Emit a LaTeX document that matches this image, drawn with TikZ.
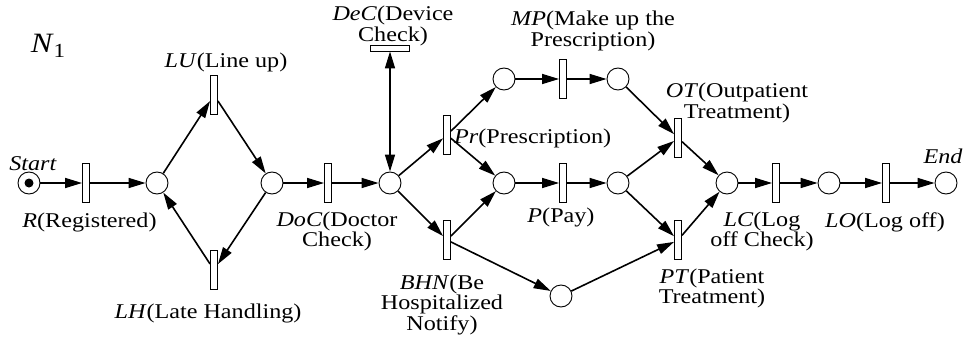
\documentclass[tikz,border=0pt]{standalone}
\usepackage{fontspec}
\setmainfont{Liberation Serif}
\usepackage{graphicx}
\usetikzlibrary{arrows.meta}
% stretched, centred label text (first baseline is the node's base)
\newcommand\lbl[1]{\scalebox{1.15}[1]{\begin{tabular}[t]{@{}c@{}}#1\end{tabular}}}

\begin{document}
\begin{tikzpicture}[x=1pt,y=-1pt,
  place/.style={circle,draw,line width=0.9pt,minimum size=22pt,inner sep=0pt},
  trans/.style={rectangle,draw,line width=0.9pt,minimum width=7pt,minimum height=39pt,inner sep=0pt,fill=white},
  htrans/.style={trans,minimum width=39pt,minimum height=6pt},
  arc/.style={line width=1.6pt,-{Triangle[length=17pt,width=10pt]}},
  biarc/.style={line width=1.6pt,{Triangle[length=17pt,width=10pt]}-{Triangle[length=17pt,width=10pt]}},
  txt/.style={inner sep=0pt,anchor=base,font=\fontsize{21}{20.5}\selectfont},
]
\fill[white] (0,0) rectangle (964,345);
\useasboundingbox (0,0) rectangle (964,345);

% places
\node[place] (start) at (29,183) {};
\fill (start.center) circle (4.5pt);
\node[place] (p1) at (157,183) {};
\node[place] (p2) at (272,183) {};
\node[place] (p3) at (390,183) {};
\node[place] (pa) at (504,79) {};
\node[place] (pb) at (504,183) {};
\node[place] (pe) at (561,296) {};
\node[place] (pc) at (618,79) {};
\node[place] (pd) at (618,183) {};
\node[place] (pf) at (727,183) {};
\node[place] (pg) at (829,183) {};
\node[place] (end) at (946,183) {};

% transitions
\node[trans] (R) at (86,183) {};
\node[trans] (LU) at (214,95) {};
\node[trans] (LH) at (214,270) {};
\node[trans] (DoC) at (328,183) {};
\node[htrans] (DeC) at (390,48) {};
\node[trans] (Pr) at (447,135) {};
\node[trans] (BHN) at (447,240) {};
\node[trans] (MP) at (563,79) {};
\node[trans] (P) at (563,183) {};
\node[trans] (OT) at (678,138) {};
\node[trans] (PT) at (678,240) {};
\node[trans] (LC) at (776,183) {};
\node[trans] (LO) at (886,183) {};

% arcs
\draw[arc] (start) -- (R);
\draw[arc] (R) -- (p1);
\draw[arc] (p1) -- (LU);
\draw[arc] (LU) -- (p2);
\draw[arc] (p2) -- (LH);
\draw[arc] (LH) -- (p1);
\draw[arc] (p2) -- (DoC);
\draw[arc] (DoC) -- (p3);
\draw[biarc] (p3) -- (DeC);
\draw[arc] (p3) -- (Pr);
\draw[arc] (p3) -- (BHN);
\draw[arc] (Pr) -- (pa);
\draw[arc] (Pr) -- (pb);
\draw[arc] (BHN) -- (pb);
\draw[arc] (BHN) -- (pe);
\draw[arc] (pa) -- (MP);
\draw[arc] (MP) -- (pc);
\draw[arc] (pb) -- (P);
\draw[arc] (P) -- (pd);
\draw[arc] (pc) -- (OT);
\draw[arc] (pd) -- (OT);
\draw[arc] (pd) -- (PT);
\draw[arc] (pe) -- (PT);
\draw[arc] (OT) -- (pf);
\draw[arc] (PT) -- (pf);
\draw[arc] (pf) -- (LC);
\draw[arc] (LC) -- (pg);
\draw[arc] (pg) -- (LO);
\draw[arc] (LO) -- (end);

% labels
\node[txt] (tN) at (48,53) {\scalebox{1.15}[1]{\fontsize{28}{28}\selectfont\textit{N}\raisebox{-5pt}{\fontsize{20}{20}\selectfont 1}}};
\node[txt] (tStart) at (33,170) {\lbl{\textit{Start}}};
\node[txt] (tR) at (89.5,227) {\lbl{\textit{R}(Registered)}};
\node[txt] (tLU) at (226,68) {\lbl{\textit{LU}(Line up)}};
\node[txt] (tLH) at (208,318) {\lbl{\textit{LH}(Late Handling)}};
\node[txt] (tDoC) at (337,226) {\lbl{\textit{DoC}(Doctor\\Check)}};
\node[txt] (tDeC) at (393,21) {\lbl{\textit{DeC}(Device\\Check)}};
\node[txt] (tMP) at (593,26) {\lbl{\textit{MP}(Make up the\\Prescription)}};
\node[txt,anchor=base west] (tPr) at (454,143) {\lbl{\textit{Pr}(Prescription)}};
\node[txt] (tP) at (561,222) {\lbl{\textit{P}(Pay)}};
\node[txt] (tBHN) at (442,289) {\lbl{\textit{BHN}(Be\\Hospitalized\\Notify)}};
\node[txt] (tOT) at (737,98) {\lbl{\textit{OT}(Outpatient\\Treatment)}};
\node[txt] (tPT) at (712,283) {\lbl{\textit{PT}(Patient\\Treatment)}};
\node[txt] (tLC) at (762,226) {\lbl{\textit{LC}(Log\\off Check)}};
\node[txt] (tLO) at (885,227) {\lbl{\textit{LO}(Log off)}};
\node[txt] (tEnd) at (943,163) {\lbl{\textit{End}}};
\end{tikzpicture}
\end{document}
